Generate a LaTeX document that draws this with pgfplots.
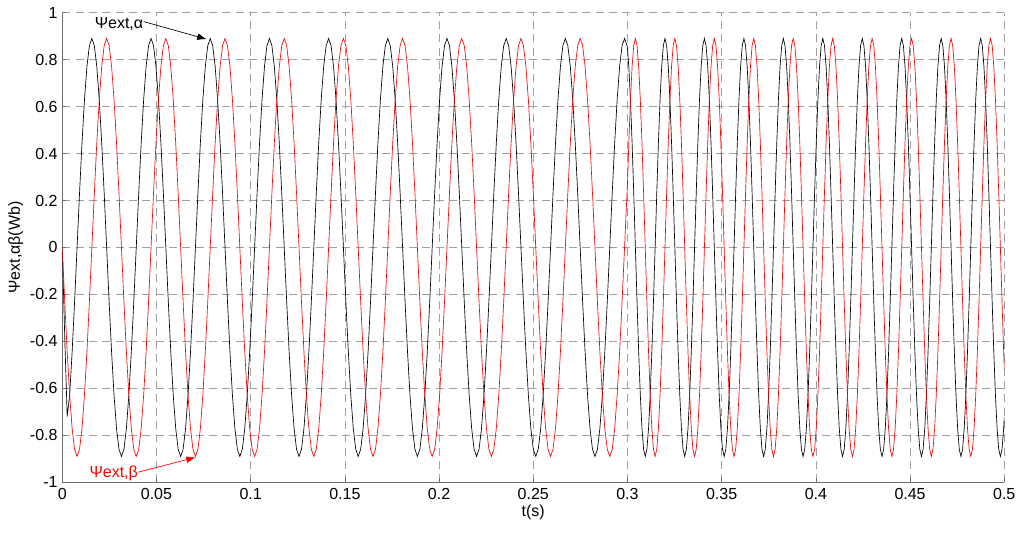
\documentclass[border=0pt]{standalone}
\usepackage{fontspec}
\setmainfont{Liberation Sans}
\usepackage{pgfplots}
\pgfplotsset{compat=1.18}
\usepackage{pgfplotstable}
\usetikzlibrary{arrows.meta}
\definecolor{gridgray}{RGB}{160,160,160}
\definecolor{axgray}{RGB}{110,110,110}
\pgfplotstableread{
t b r
0 0 0
0.001309 -0.38 -0.2303
0.002618 -0.72 -0.445
0.003927 -0.6293 -0.6293
0.005236 -0.445 -0.7707
0.006545 -0.2303 -0.8597
0.007854 0 -0.89
0.009163 0.2303 -0.8597
0.010472 0.445 -0.7707
0.011781 0.6293 -0.6293
0.013090 0.7707 -0.445
0.014399 0.8597 -0.2303
0.015708 0.89 0
0.017017 0.8597 0.2303
0.018326 0.7707 0.445
0.019635 0.6293 0.6293
0.020944 0.445 0.7707
0.022253 0.2303 0.8597
0.023562 0 0.89
0.024871 -0.2303 0.8597
0.026180 -0.445 0.7707
0.027489 -0.6293 0.6293
0.028798 -0.7707 0.445
0.030107 -0.8597 0.2303
0.031416 -0.89 0
0.032725 -0.8597 -0.2303
0.034034 -0.7707 -0.445
0.035343 -0.6293 -0.6293
0.036652 -0.445 -0.7707
0.037961 -0.2303 -0.8597
0.039270 0 -0.89
0.040579 0.2303 -0.8597
0.041888 0.445 -0.7707
0.043197 0.6293 -0.6293
0.044506 0.7707 -0.445
0.045815 0.8597 -0.2303
0.047124 0.89 0
0.048433 0.8597 0.2303
0.049742 0.7707 0.445
0.051051 0.6293 0.6293
0.052360 0.445 0.7707
0.053669 0.2303 0.8597
0.054978 0 0.89
0.056287 -0.2303 0.8597
0.057596 -0.445 0.7707
0.058905 -0.6293 0.6293
0.060214 -0.7707 0.445
0.061523 -0.8597 0.2303
0.062832 -0.89 0
0.064141 -0.8597 -0.2303
0.065450 -0.7707 -0.445
0.066759 -0.6293 -0.6293
0.068068 -0.445 -0.7707
0.069377 -0.2303 -0.8597
0.070686 0 -0.89
0.071995 0.2303 -0.8597
0.073304 0.445 -0.7707
0.074613 0.6293 -0.6293
0.075922 0.7707 -0.445
0.077231 0.8597 -0.2303
0.078540 0.89 0
0.079849 0.8597 0.2303
0.081158 0.7707 0.445
0.082467 0.6293 0.6293
0.083776 0.445 0.7707
0.085085 0.2303 0.8597
0.086394 0 0.89
0.087703 -0.2303 0.8597
0.089012 -0.445 0.7707
0.090321 -0.6293 0.6293
0.091630 -0.7707 0.445
0.092939 -0.8597 0.2303
0.094248 -0.89 0
0.095557 -0.8597 -0.2303
0.096866 -0.7707 -0.445
0.098175 -0.6293 -0.6293
0.099484 -0.445 -0.7707
0.100793 -0.2303 -0.8597
0.102102 0 -0.89
0.103411 0.2303 -0.8597
0.104720 0.445 -0.7707
0.106029 0.6293 -0.6293
0.107338 0.7707 -0.445
0.108647 0.8597 -0.2303
0.109956 0.89 0
0.111265 0.8597 0.2303
0.112574 0.7707 0.445
0.113883 0.6293 0.6293
0.115192 0.445 0.7707
0.116501 0.2303 0.8597
0.117810 0 0.89
0.119119 -0.2303 0.8597
0.120428 -0.445 0.7707
0.121737 -0.6293 0.6293
0.123046 -0.7707 0.445
0.124355 -0.8597 0.2303
0.125664 -0.89 0
0.126973 -0.8597 -0.2303
0.128282 -0.7707 -0.445
0.129591 -0.6293 -0.6293
0.130900 -0.445 -0.7707
0.132209 -0.2303 -0.8597
0.133518 0 -0.89
0.134827 0.2303 -0.8597
0.136136 0.445 -0.7707
0.137445 0.6293 -0.6293
0.138754 0.7707 -0.445
0.140063 0.8597 -0.2303
0.141372 0.89 0
0.142681 0.8597 0.2303
0.143990 0.7707 0.445
0.145299 0.6293 0.6293
0.146608 0.445 0.7707
0.147917 0.2303 0.8597
0.149226 0 0.89
0.150535 -0.2303 0.8597
0.151844 -0.445 0.7707
0.153153 -0.6293 0.6293
0.154462 -0.7707 0.445
0.155771 -0.8597 0.2303
0.157080 -0.89 0
0.158389 -0.8597 -0.2303
0.159698 -0.7707 -0.445
0.161007 -0.6293 -0.6293
0.162316 -0.445 -0.7707
0.163625 -0.2303 -0.8597
0.164934 0 -0.89
0.166243 0.2303 -0.8597
0.167552 0.445 -0.7707
0.168861 0.6293 -0.6293
0.170170 0.7707 -0.445
0.171479 0.8597 -0.2303
0.172788 0.89 0
0.174097 0.8597 0.2303
0.175406 0.7707 0.445
0.176715 0.6293 0.6293
0.178024 0.445 0.7707
0.179333 0.2303 0.8597
0.180642 0 0.89
0.181951 -0.2303 0.8597
0.183260 -0.445 0.7707
0.184569 -0.6293 0.6293
0.185878 -0.7707 0.445
0.187187 -0.8597 0.2303
0.188496 -0.89 0
0.189805 -0.8597 -0.2303
0.191114 -0.7707 -0.445
0.192423 -0.6293 -0.6293
0.193732 -0.445 -0.7707
0.195041 -0.2303 -0.8597
0.196350 0 -0.89
0.197659 0.2303 -0.8597
0.198968 0.445 -0.7707
0.200277 0.6293 -0.6293
0.201586 0.7707 -0.445
0.202895 0.8597 -0.2303
0.204204 0.89 0
0.205513 0.8597 0.2303
0.206822 0.7707 0.445
0.208131 0.6293 0.6293
0.209440 0.445 0.7707
0.210749 0.2303 0.8597
0.212058 0 0.89
0.213367 -0.2303 0.8597
0.214676 -0.445 0.7707
0.215985 -0.6293 0.6293
0.217294 -0.7707 0.445
0.218603 -0.8597 0.2303
0.219911 -0.89 0
0.221220 -0.8597 -0.2303
0.222529 -0.7707 -0.445
0.223838 -0.6293 -0.6293
0.225147 -0.445 -0.7707
0.226456 -0.2303 -0.8597
0.227765 0 -0.89
0.229074 0.2303 -0.8597
0.230383 0.445 -0.7707
0.231692 0.6293 -0.6293
0.233001 0.7707 -0.445
0.234310 0.8597 -0.2303
0.235619 0.89 0
0.236928 0.8597 0.2303
0.238237 0.7707 0.445
0.239546 0.6293 0.6293
0.240855 0.445 0.7707
0.242164 0.2303 0.8597
0.243473 0 0.89
0.244782 -0.2303 0.8597
0.246091 -0.445 0.7707
0.247400 -0.6293 0.6293
0.248709 -0.7707 0.445
0.250018 -0.8597 0.2303
0.251327 -0.89 0
0.252636 -0.8597 -0.2303
0.253945 -0.7707 -0.445
0.255254 -0.6293 -0.6293
0.256563 -0.445 -0.7707
0.257872 -0.2303 -0.8597
0.259181 0 -0.89
0.260490 0.2303 -0.8597
0.261799 0.445 -0.7707
0.263108 0.6293 -0.6293
0.264417 0.7707 -0.445
0.265726 0.8597 -0.2303
0.267035 0.89 0
0.268344 0.8597 0.2303
0.269653 0.7707 0.445
0.270962 0.6293 0.6293
0.272271 0.445 0.7707
0.273580 0.2303 0.8597
0.274889 0 0.89
0.276198 -0.2303 0.8597
0.277507 -0.445 0.7707
0.278816 -0.6293 0.6293
0.280125 -0.7707 0.445
0.281434 -0.8597 0.2303
0.282743 -0.89 0
0.284052 -0.8597 -0.2303
0.285361 -0.7707 -0.445
0.286670 -0.6293 -0.6293
0.287979 -0.445 -0.7707
0.289288 -0.2303 -0.8597
0.290597 0 -0.89
0.291906 0.2303 -0.8597
0.293215 0.445 -0.7707
0.294524 0.6293 -0.6293
0.295833 0.7707 -0.445
0.297142 0.8597 -0.2303
0.298451 0.89 0
0.299760 0.8597 0.2303
0.300000 0.848 0.2706
0.300713 0.7707 0.445
0.301586 0.6293 0.6293
0.302459 0.445 0.7707
0.303331 0.2303 0.8597
0.304204 0 0.89
0.305077 -0.2303 0.8597
0.305949 -0.445 0.7707
0.306822 -0.6293 0.6293
0.307695 -0.7707 0.445
0.308567 -0.8597 0.2303
0.309440 -0.89 0
0.310313 -0.8597 -0.2303
0.311185 -0.7707 -0.445
0.312058 -0.6293 -0.6293
0.312931 -0.445 -0.7707
0.313803 -0.2303 -0.8597
0.314676 0 -0.89
0.315549 0.2303 -0.8597
0.316421 0.445 -0.7707
0.317294 0.6293 -0.6293
0.318167 0.7707 -0.445
0.319039 0.8597 -0.2303
0.319912 0.89 0
0.320785 0.8597 0.2303
0.321657 0.7707 0.445
0.322530 0.6293 0.6293
0.323403 0.445 0.7707
0.324275 0.2303 0.8597
0.325148 0 0.89
0.326021 -0.2303 0.8597
0.326893 -0.445 0.7707
0.327766 -0.6293 0.6293
0.328639 -0.7707 0.445
0.329511 -0.8597 0.2303
0.330383 -0.89 0
0.331256 -0.8597 -0.2303
0.332128 -0.7707 -0.445
0.333001 -0.6293 -0.6293
0.333874 -0.445 -0.7707
0.334746 -0.2303 -0.8597
0.335619 0 -0.89
0.336492 0.2303 -0.8597
0.337364 0.445 -0.7707
0.338237 0.6293 -0.6293
0.339110 0.7707 -0.445
0.339982 0.8597 -0.2303
0.340855 0.89 0
0.341728 0.8597 0.2303
0.342600 0.7707 0.445
0.343473 0.6293 0.6293
0.344346 0.445 0.7707
0.345218 0.2303 0.8597
0.346091 0 0.89
0.346964 -0.2303 0.8597
0.347836 -0.445 0.7707
0.348709 -0.6293 0.6293
0.349582 -0.7707 0.445
0.350454 -0.8597 0.2303
0.351327 -0.89 0
0.352200 -0.8597 -0.2303
0.353072 -0.7707 -0.445
0.353945 -0.6293 -0.6293
0.354818 -0.445 -0.7707
0.355690 -0.2303 -0.8597
0.356563 0 -0.89
0.357436 0.2303 -0.8597
0.358308 0.445 -0.7707
0.359181 0.6293 -0.6293
0.360054 0.7707 -0.445
0.360926 0.8597 -0.2303
0.361799 0.89 0
0.362672 0.8597 0.2303
0.363544 0.7707 0.445
0.364417 0.6293 0.6293
0.365290 0.445 0.7707
0.366162 0.2303 0.8597
0.367035 0 0.89
0.367908 -0.2303 0.8597
0.368780 -0.445 0.7707
0.369653 -0.6293 0.6293
0.370526 -0.7707 0.445
0.371398 -0.8597 0.2303
0.372271 -0.89 0
0.373144 -0.8597 -0.2303
0.374016 -0.7707 -0.445
0.374889 -0.6293 -0.6293
0.375762 -0.445 -0.7707
0.376634 -0.2303 -0.8597
0.377507 0 -0.89
0.378380 0.2303 -0.8597
0.379252 0.445 -0.7707
0.380125 0.6293 -0.6293
0.380998 0.7707 -0.445
0.381870 0.8597 -0.2303
0.382743 0.89 0
0.383616 0.8597 0.2303
0.384488 0.7707 0.445
0.385361 0.6293 0.6293
0.386234 0.445 0.7707
0.387106 0.2303 0.8597
0.387979 0 0.89
0.388852 -0.2303 0.8597
0.389724 -0.445 0.7707
0.390597 -0.6293 0.6293
0.391470 -0.7707 0.445
0.392342 -0.8597 0.2303
0.393215 -0.89 0
0.394088 -0.8597 -0.2303
0.394960 -0.7707 -0.445
0.395833 -0.6293 -0.6293
0.396706 -0.445 -0.7707
0.397578 -0.2303 -0.8597
0.398451 0 -0.89
0.399324 0.2303 -0.8597
0.400196 0.445 -0.7707
0.401069 0.6293 -0.6293
0.401942 0.7707 -0.445
0.402814 0.8597 -0.2303
0.403687 0.89 0
0.404560 0.8597 0.2303
0.405432 0.7707 0.445
0.406305 0.6293 0.6293
0.407178 0.445 0.7707
0.408050 0.2303 0.8597
0.408923 0 0.89
0.409796 -0.2303 0.8597
0.410668 -0.445 0.7707
0.411541 -0.6293 0.6293
0.412414 -0.7707 0.445
0.413286 -0.8597 0.2303
0.414159 -0.89 0
0.415032 -0.8597 -0.2303
0.415904 -0.7707 -0.445
0.416777 -0.6293 -0.6293
0.417650 -0.445 -0.7707
0.418522 -0.2303 -0.8597
0.419395 0 -0.89
0.420268 0.2303 -0.8597
0.421140 0.445 -0.7707
0.422013 0.6293 -0.6293
0.422886 0.7707 -0.445
0.423758 0.8597 -0.2303
0.424631 0.89 0
0.425504 0.8597 0.2303
0.426376 0.7707 0.445
0.427249 0.6293 0.6293
0.428122 0.445 0.7707
0.428994 0.2303 0.8597
0.429867 0 0.89
0.430740 -0.2303 0.8597
0.431612 -0.445 0.7707
0.432485 -0.6293 0.6293
0.433358 -0.7707 0.445
0.434230 -0.8597 0.2303
0.435103 -0.89 0
0.435976 -0.8597 -0.2303
0.436848 -0.7707 -0.445
0.437721 -0.6293 -0.6293
0.438594 -0.445 -0.7707
0.439466 -0.2303 -0.8597
0.440339 0 -0.89
0.441212 0.2303 -0.8597
0.442084 0.445 -0.7707
0.442957 0.6293 -0.6293
0.443830 0.7707 -0.445
0.444702 0.8597 -0.2303
0.445575 0.89 0
0.446448 0.8597 0.2303
0.447320 0.7707 0.445
0.448193 0.6293 0.6293
0.449066 0.445 0.7707
0.449938 0.2303 0.8597
0.450811 0 0.89
0.451684 -0.2303 0.8597
0.452556 -0.445 0.7707
0.453429 -0.6293 0.6293
0.454302 -0.7707 0.445
0.455174 -0.8597 0.2303
0.456047 -0.89 0
0.456920 -0.8597 -0.2303
0.457792 -0.7707 -0.445
0.458665 -0.6293 -0.6293
0.459538 -0.445 -0.7707
0.460410 -0.2303 -0.8597
0.461283 0 -0.89
0.462156 0.2303 -0.8597
0.463028 0.445 -0.7707
0.463901 0.6293 -0.6293
0.464774 0.7707 -0.445
0.465646 0.8597 -0.2303
0.466519 0.89 0
0.467392 0.8597 0.2303
0.468264 0.7707 0.445
0.469137 0.6293 0.6293
0.470010 0.445 0.7707
0.470882 0.2303 0.8597
0.471755 0 0.89
0.472628 -0.2303 0.8597
0.473500 -0.445 0.7707
0.474373 -0.6293 0.6293
0.475246 -0.7707 0.445
0.476118 -0.8597 0.2303
0.476991 -0.89 0
0.477864 -0.8597 -0.2303
0.478736 -0.7707 -0.445
0.479609 -0.6293 -0.6293
0.480482 -0.445 -0.7707
0.481354 -0.2303 -0.8597
0.482227 0 -0.89
0.483100 0.2303 -0.8597
0.483972 0.445 -0.7707
0.484845 0.6293 -0.6293
0.485718 0.7707 -0.445
0.486590 0.8597 -0.2303
0.487463 0.89 0
0.488336 0.8597 0.2303
0.489208 0.7707 0.445
0.490081 0.6293 0.6293
0.490954 0.445 0.7707
0.491826 0.2303 0.8597
0.492699 0 0.89
0.493572 -0.2303 0.8597
0.494444 -0.445 0.7707
0.495317 -0.6293 0.6293
0.496190 -0.7707 0.445
0.497062 -0.8597 0.2303
0.497935 -0.89 0
0.498808 -0.8597 -0.2303
0.499680 -0.7707 -0.445
0.500000 -0.7245 -0.5168
}\fluxdata
\begin{document}
\begin{tikzpicture}
\begin{axis}[
  scale only axis, width=706.5pt, height=352.2pt,
  xmin=0, xmax=0.5, ymin=-1, ymax=1,
  axis x line*=bottom, axis y line*=left,
  axis line style={axgray, line width=0.6pt, -},
  xtick={0,0.05,0.1,0.15,0.2,0.25,0.3,0.35,0.4,0.45,0.5},
  xticklabels={0,0.05,0.1,0.15,0.2,0.25,0.3,0.35,0.4,0.45,0.5},
  ytick={-1,-0.8,-0.6,-0.4,-0.2,0,0.2,0.4,0.6,0.8,1},
  yticklabels={-1,-0.8,-0.6,-0.4,-0.2,0,0.2,0.4,0.6,0.8,1},
  grid=major,
  major grid style={gridgray, line width=0.5pt, dash pattern=on 6pt off 4pt},
  tick align=inside, major tick length=3pt, tick style={axgray, line width=0.5pt},
  ticklabel style={font=\fontsize{12}{14}\selectfont},
  xticklabel style={yshift=-1pt},
  xlabel={t(s)}, ylabel={Ψext,αβ(Wb)},
  label style={font=\fontsize{12}{14}\selectfont},
  xlabel style={at={(axis description cs:0.5,-0.0639)}, anchor=center},
  ylabel style={at={(axis description cs:-0.0495,0.5)}, anchor=center},
  clip=true,
]
\addplot[black, line width=0.5pt] table[x=t, y=b] {\fluxdata};
\addplot[red, line width=0.5pt] table[x=t, y=r] {\fluxdata};
\node[font=\fontsize{12}{14}\selectfont, anchor=center] at (axis cs:0.0301,0.952) {Ψext,α};
\draw[black, line width=0.5pt, -{Latex[length=7pt,width=5pt]}] (axis cs:0.0432,0.962) -- (axis cs:0.0766,0.887);
\node[red, font=\fontsize{12}{14}\selectfont, anchor=center] at (axis cs:0.0273,-0.962) {Ψext,β};
\draw[red, line width=0.5pt, -{Latex[length=7pt,width=5pt]}] (axis cs:0.0403,-0.957) -- (axis cs:0.0708,-0.894);
\end{axis}
\pgfresetboundingbox
\path[use as bounding box] (-46.7pt,-37.3pt) rectangle (721.3pt,361.7pt);
\end{tikzpicture}
\end{document}
